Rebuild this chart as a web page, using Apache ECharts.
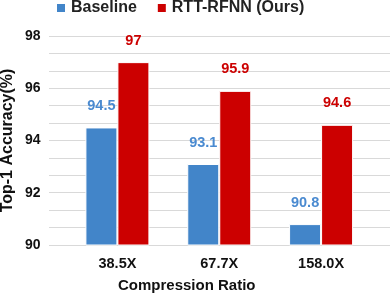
<!DOCTYPE html>
<html><head><meta charset="utf-8">
<script src="https://cdn.jsdelivr.net/npm/echarts@6/dist/echarts.min.js"></script>
<style>html,body{margin:0;padding:0;background:#fff}#c{width:390px;height:293px}</style>
</head><body><div id="c"></div>
<script>
const categories = ['38.5X', '67.7X', '158.0X'];
const baseline = [94.5, 93.1, 90.8];
const ours = [97, 95.9, 94.6];
const seriesNames = ['Baseline', 'RTT-RFNN (Ours)'];
const yMin = 90, yMax = 98, yLabelStep = 2, yGridStep = 2 / 3;

const font = 'Liberation Sans, Arial, sans-serif';
const chart = echarts.init(document.getElementById('c'), null, {renderer: 'canvas'});
chart.setOption({
  animation: false,
  textStyle: {fontFamily: font},
  legend: {
    data: seriesNames, left: 50, top: -5, itemWidth: 10, itemHeight: 10, itemGap: 19,
    icon: 'rect',
    textStyle: {fontFamily: font, fontSize: 16, fontWeight: 'bold', color: '#222'}
  },
  title: {
    text: 'Compression Ratio', left: 113, top: 273,
    textStyle: {fontFamily: font, fontSize: 15, fontWeight: 'bold', color: '#111'}
  },
  grid: [
    {left: 49, right: 0, top: 36, bottom: 48, outerBoundsMode: 'none', containLabel: false},
    {left: 66.5, right: 18, top: 36, bottom: 48, outerBoundsMode: 'none', containLabel: false}
  ],
  xAxis: [
    {gridIndex: 0, type: 'category', data: categories, show: false},
    {gridIndex: 1, type: 'category', data: categories,
     axisLine: {show: false}, axisTick: {show: false},
     axisLabel: {margin: 11, fontFamily: font, fontSize: 14.5, fontWeight: 'bold', color: '#111'}}
  ],
  yAxis: [
    {gridIndex: 0, type: 'value', min: yMin, max: yMax, interval: yGridStep,
     axisLabel: {color: 'rgba(0,0,0,0)'},
     splitLine: {lineStyle: {color: '#d9d9d9', width: 1}}
    },
    {gridIndex: 1, type: 'value', min: yMin, max: yMax, interval: yLabelStep,
     name: 'Top-1 Accuracy(%)', nameLocation: 'middle', nameGap: 50.5, nameMoveOverlap: false,
     nameTextStyle: {fontFamily: font, fontSize: 16, fontWeight: 'bold', color: '#111'},
     axisLine: {show: false}, axisTick: {show: false},
     axisLabel: {margin: 26, fontFamily: font, fontSize: 14, fontWeight: 'bold', color: '#111'},
     splitLine: {show: false}}
  ],
  series: [
    {name: seriesNames[0], type: 'bar', xAxisIndex: 1, yAxisIndex: 1, data: baseline,
     barWidth: 32, barGap: '0%', z: 4,
     itemStyle: {color: '#4285c9', borderColor: '#fff', borderWidth: 1},
     label: {show: true, position: 'top', distance: 14, fontFamily: font, fontSize: 14.5, fontWeight: 'bold', color: '#4a8ad0'}},
    {name: seriesNames[1], type: 'bar', xAxisIndex: 1, yAxisIndex: 1, data: ours,
     barWidth: 32, z: 4,
     itemStyle: {color: '#cc0000', borderColor: '#fff', borderWidth: 1},
     label: {show: true, position: 'top', distance: 14, fontFamily: font, fontSize: 14.5, fontWeight: 'bold', color: '#cc0000'}}
  ]
});
</script></body></html>
